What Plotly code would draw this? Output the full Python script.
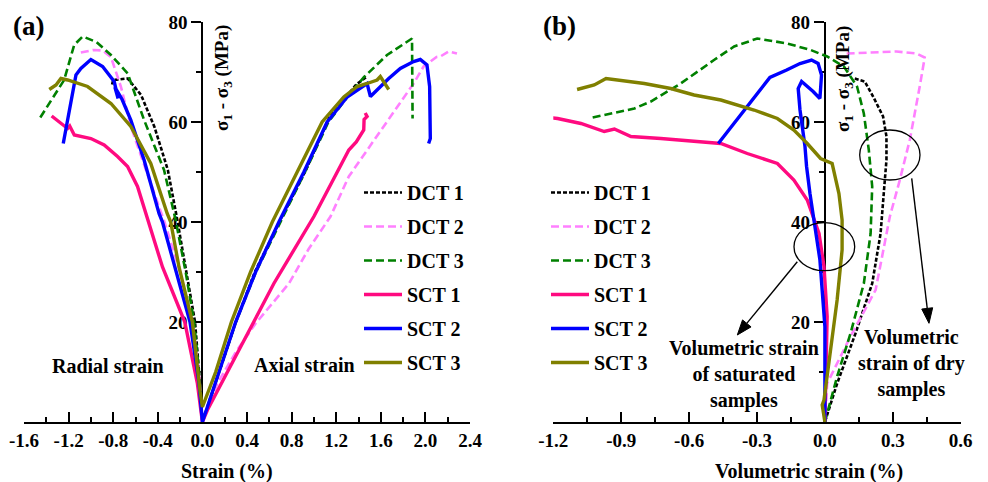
import math
import plotly.graph_objects as go

W, H = 988, 482
FONT = "Liberation Serif"

# ---------------- data : panel (a) radial / axial strain ----------------
NAMES = ["DCT 1", "DCT 2", "DCT 3", "SCT 1", "SCT 2", "SCT 3"]

DCT1_RAD_X = [-0.81, -0.80, -0.67, -0.55, -0.43, -0.31, -0.23, -0.15, -0.066, -0.03, 0.0]
DCT1_RAD_Y = [67.5, 68.4, 68.7, 65.4, 59.0, 50.4, 41.0, 31.0, 20.0, 10.0, 0.0]
DCT1_AX_X = [0.0, 0.15, 0.30, 0.47, 0.69, 0.92, 1.15, 1.24, 1.38, 1.477]
DCT1_AX_Y = [0.0, 10.0, 20.0, 30.0, 40.0, 50.0, 61.5, 63.7, 67.5, 69.1]

DCT2_RAD_X = [-1.09, -0.98, -0.895, -0.82, -0.73, -0.64, -0.50, -0.34, -0.20, -0.09, -0.03, 0.0]
DCT2_RAD_Y = [73.9, 74.4, 74.3, 73.0, 67.0, 59.0, 50.0, 40.0, 30.0, 20.0, 10.0, 0.0]
DCT2_AX_X = [0.0, 0.134, 0.30, 0.477, 0.70, 0.776, 0.95, 1.149, 1.313, 1.477, 1.567, 1.746,
             1.894, 1.984, 2.10, 2.134, 2.208, 2.283]
DCT2_AX_Y = [0.0, 7.7, 14.0, 19.7, 25.7, 27.7, 34.5, 41.1, 49.1, 54.4, 57.1, 63.1,
             67.7, 71.1, 73.0, 73.1, 74.1, 73.7]

DCT3_RAD_X = [-1.454, -1.24, -1.15, -1.074, -0.95, -0.82, -0.67, -0.523, -0.344, -0.24,
              -0.15, -0.075, -0.03, 0.0]
DCT3_RAD_Y = [60.9, 68.4, 75.4, 77.1, 76.0, 73.4, 69.7, 60.4, 50.4, 40.4, 30.0, 20.0, 10.0, 0.0]
DCT3_AX_X = [0.0, 0.15, 0.30, 0.48, 0.70, 0.92, 1.13, 1.30, 1.45, 1.656, 1.88, 1.885]
DCT3_AX_Y = [0.0, 10.0, 20.0, 30.0, 40.0, 50.0, 60.0, 65.0, 69.0, 73.4, 76.7, 60.7]

SCT1_RAD_X = [-1.352, -1.269, -1.209, -1.19, -1.149, -1.0, -0.881, -0.761, -0.671, -0.582,
              -0.49, -0.358, -0.158, -0.045, 0.0]
SCT1_RAD_Y = [61.2, 59.7, 58.7, 59.2, 57.4, 56.7, 55.4, 53.1, 51.1, 47.1, 40.4, 31.0, 20.0, 7.7, 0.0]
SCT1_AX_X = [0.0, 0.045, 0.328, 0.641, 1.0, 1.253, 1.313, 1.38, 1.417, 1.447, 1.45, 1.477, 1.46]
SCT1_AX_Y = [0.0, 2.4, 14.4, 27.7, 41.1, 51.7, 54.4, 56.0, 57.4, 58.4, 60.5, 61.1, 61.8]

SCT2_RAD_X = [-1.248, -1.134, -1.09, -1.0, -0.895, -0.791, -0.756, -0.785, -0.72, -0.642,
              -0.523, -0.389, -0.358, -0.235, -0.111, -0.03, 0.0]
SCT2_RAD_Y = [55.7, 69.4, 70.7, 72.5, 71.1, 68.1, 64.7, 67.0, 64.5, 60.4, 52.4, 41.7, 40.0,
              30.0, 20.0, 7.7, 0.0]
SCT2_AX_X = [0.0, 0.149, 0.298, 0.477, 0.686, 0.91, 1.119, 1.298, 1.477, 1.507, 1.596, 1.671,
             1.775, 1.894, 1.954, 2.014, 2.038, 2.044, 2.029]
SCT2_AX_Y = [0.0, 10.0, 20.0, 30.0, 40.0, 50.0, 60.0, 65.0, 67.7, 65.1, 67.1, 68.7,
             70.7, 72.1, 72.5, 71.4, 67.1, 56.7, 55.7]

SCT3_RAD_X = [-1.373, -1.313, -1.269, -1.209, -1.03, -0.82, -0.642, -0.463, -0.316, -0.284,
              -0.21, -0.09, -0.02, 0.0]
SCT3_RAD_Y = [66.5, 67.4, 68.7, 68.4, 67.1, 63.7, 59.1, 51.7, 41.7, 40.0, 31.0, 20.0, 6.0, 3.0]
SCT3_AX_X = [0.0, 0.119, 0.26, 0.432, 0.627, 0.85, 1.074, 1.268, 1.388, 1.477, 1.567, 1.596, 1.671]
SCT3_AX_Y = [3.0, 10.0, 20.0, 30.0, 40.0, 50.0, 60.0, 65.0, 67.1, 67.7, 68.4, 69.1, 66.5]

# ---------------- data : panel (b) volumetric strain ----------------
DCT1_VOL_X = [0.132, 0.176, 0.213, 0.257, 0.272, 0.272, 0.26, 0.246, 0.209, 0.135, 0.054, 0.0]
DCT1_VOL_Y = [68.7, 68.1, 65.1, 61.1, 57.1, 52.4, 45.7, 37.7, 27.7, 17.7, 7.7, 0.0]

DCT2_VOL_X = [0.096, 0.316, 0.404, 0.441, 0.419, 0.375, 0.331, 0.287, 0.224, 0.113, 0.01, 0.0]
DCT2_VOL_Y = [73.7, 74.1, 73.7, 72.9, 67.1, 56.4, 48.4, 41.1, 26.4, 17.1, 7.7, 0.0]

DCT3_VOL_X = [-1.026, -0.842, -0.769, -0.637, -0.49, -0.401, -0.299, -0.166, -0.063, 0.01,
              0.084, 0.142, 0.172, 0.194, 0.209, 0.202, 0.172, 0.113, 0.054, 0.0]
DCT3_VOL_Y = [60.9, 62.7, 64.1, 67.7, 72.4, 75.1, 76.7, 75.7, 74.4, 73.1,
              71.1, 67.1, 61.7, 54.4, 47.1, 37.7, 27.7, 17.7, 9.1, 0.0]

SCT1_VOL_X = [-1.269, -1.181, -1.078, -0.975, -0.93, -0.857, -0.725, -0.46, -0.343, -0.21,
              -0.137, -0.078, -0.026, -0.004, 0.01, 0.0]
SCT1_VOL_Y = [61.2, 60.7, 59.7, 58.1, 58.6, 57.1, 56.7, 55.7, 53.7, 51.7,
              48.4, 44.4, 37.7, 31.1, 21.1, 0.0]

SCT2_VOL_X = [-0.471, -0.243, -0.169, -0.11, -0.059, -0.03, -0.015, -0.022, -0.052, -0.103,
              -0.118, -0.11, -0.088, -0.081, -0.066, -0.044, -0.022, 0.0, 0.0, 0.0]
SCT2_VOL_Y = [55.7, 68.9, 70.4, 71.7, 72.4, 71.7, 69.4, 64.7, 66.1, 68.1,
              66.7, 62.4, 55.1, 51.1, 45.7, 39.1, 32.4, 19.1, 5.7, 0.0]

SCT3_VOL_X = [-1.095, -1.019, -0.967, -0.798, -0.681, -0.578, -0.46, -0.313, -0.21, -0.137,
              -0.078, -0.019, 0.032, 0.062, 0.076, 0.076, 0.054, 0.025, -0.004, -0.012, 0.0]
SCT3_VOL_Y = [66.5, 67.4, 68.7, 67.7, 66.7, 65.4, 64.4, 62.4, 60.7, 58.4,
              55.7, 52.7, 51.7, 45.7, 40.4, 34.4, 24.4, 14.4, 4.4, 3.4, 0.0]

# ticks
XA_TICKS = [-1.6, -1.2, -0.8, -0.4, 0.0, 0.4, 0.8, 1.2, 1.6, 2.0, 2.4]
XA_LABELS = ["-1.6", "-1.2", "-0.8", "-0.4", "0.0", "0.4", "0.8", "1.2", "1.6", "2.0", "2.4"]
XA_MINOR = [-1.4, -1.0, -0.6, -0.2, 0.2, 0.6, 1.0, 1.4, 1.8, 2.2]
XB_TICKS = [-1.2, -0.9, -0.6, -0.3, 0.0, 0.3, 0.6]
XB_LABELS = ["-1.2", "-0.9", "-0.6", "-0.3", "0.0", "0.3", "0.6"]
XB_MINOR = [-1.05, -0.75, -0.45, -0.15, 0.15, 0.45]
Y_TICKS = [20, 40, 60, 80]
Y_LABELS = ["20", "40", "60", "80"]
Y_MINOR = [10, 30, 50, 70]

# ---------------- styles ----------------
COLORS = ["#000000", "#FF80FF", "#008000", "#FF0A80", "#0000FF", "#808000"]
DASHES = ["4px,2px", "8px,4px", "8px,4px", "solid", "solid", "solid"]
WIDTHS = [2.6, 2.6, 2.6, 3.4, 3.4, 3.4]

RAD_X = [DCT1_RAD_X, DCT2_RAD_X, DCT3_RAD_X, SCT1_RAD_X, SCT2_RAD_X, SCT3_RAD_X]
RAD_Y = [DCT1_RAD_Y, DCT2_RAD_Y, DCT3_RAD_Y, SCT1_RAD_Y, SCT2_RAD_Y, SCT3_RAD_Y]
AX_X = [DCT1_AX_X, DCT2_AX_X, DCT3_AX_X, SCT1_AX_X, SCT2_AX_X, SCT3_AX_X]
AX_Y = [DCT1_AX_Y, DCT2_AX_Y, DCT3_AX_Y, SCT1_AX_Y, SCT2_AX_Y, SCT3_AX_Y]
VOL_X = [DCT1_VOL_X, DCT2_VOL_X, DCT3_VOL_X, SCT1_VOL_X, SCT2_VOL_X, SCT3_VOL_X]
VOL_Y = [DCT1_VOL_Y, DCT2_VOL_Y, DCT3_VOL_Y, SCT1_VOL_Y, SCT2_VOL_Y, SCT3_VOL_Y]

fig = go.Figure()
for i, name in enumerate(NAMES):
    fig.add_trace(go.Scatter(
        x=RAD_X[i] + AX_X[i], y=RAD_Y[i] + AX_Y[i], mode="lines", name=name,
        line=dict(color=COLORS[i], width=WIDTHS[i], dash=DASHES[i]),
        xaxis="x", yaxis="y", legend="legend", legendgroup="a%d" % i))
for i, name in enumerate(NAMES):
    fig.add_trace(go.Scatter(
        x=VOL_X[i], y=VOL_Y[i], mode="lines", name=name,
        line=dict(color=COLORS[i], width=WIDTHS[i], dash=DASHES[i]),
        xaxis="x2", yaxis="y2", legend="legend2", legendgroup="b%d" % i))


def px(x):
    return x / W


def py(y):
    return 1 - y / H


TICKFONT = dict(family=FONT, size=19, color="black", weight="bold")
YDOM = [py(422), py(22)]


def xaxis(dom, rng, tv, tt, mv, anchor):
    return dict(domain=dom, range=rng, tickvals=tv, ticktext=tt, ticks="inside",
                ticklen=10, tickwidth=2, tickcolor="black", showline=True, linewidth=2,
                linecolor="black", showgrid=False, zeroline=False, tickfont=TICKFONT,
                layer="below traces", anchor=anchor, automargin=False,
                minor=dict(tickvals=mv, ticks="inside", ticklen=5, tickwidth=2,
                           tickcolor="black", showgrid=False))


def yaxis(pos):
    return dict(domain=YDOM, range=[0, 80], tickvals=Y_TICKS, ticktext=Y_LABELS,
                ticks="outside", ticklen=10, tickwidth=2, tickcolor="black",
                showline=True, linewidth=2, linecolor="black", showgrid=False,
                zeroline=False, tickfont=TICKFONT, anchor="free", position=pos,
                side="left", layer="below traces", automargin=False,
                minor=dict(tickvals=Y_MINOR, ticks="outside", ticklen=5, tickwidth=2,
                           tickcolor="black", showgrid=False))


LEGFONT = dict(family=FONT, size=20, color="black", weight="bold")

fig.update_layout(
    template="none",
    width=W, height=H, margin=dict(l=0, r=0, t=0, b=0, autoexpand=False),
    paper_bgcolor="white", plot_bgcolor="white", showlegend=True,
    xaxis=xaxis([px(24), px(470)], [-1.6, 2.4], XA_TICKS, XA_LABELS, XA_MINOR, "y"),
    yaxis=yaxis(px(202.4)),
    xaxis2=xaxis([px(553.3), px(960.7)], [-1.2, 0.6], XB_TICKS, XB_LABELS, XB_MINOR, "y2"),
    yaxis2=yaxis(px(824.9)),
    legend=dict(x=px(359), y=py(173), xanchor="left", yanchor="top", font=LEGFONT,
                bgcolor="rgba(0,0,0,0)", tracegroupgap=5, borderwidth=0, itemwidth=38),
    legend2=dict(x=px(546), y=py(173), xanchor="left", yanchor="top", font=LEGFONT,
                 bgcolor="rgba(0,0,0,0)", tracegroupgap=5, borderwidth=0, itemwidth=38),
)


def label(text, x, y, size=20, angle=0):
    fig.add_annotation(text=text, x=px(x), y=py(y), xref="paper", yref="paper",
                       showarrow=False, textangle=angle, xanchor="center", yanchor="middle",
                       font=dict(family=FONT, size=size, color="black", weight="bold"))


label("(a)", 28, 26, size=27)
label("(b)", 559, 26, size=27)
label("Radial strain", 108, 366)
label("Axial strain", 304, 365)
label("Strain (%)", 227, 471)
label("Volumetric strain (%)", 809, 471)
label("σ<sub>1</sub> - σ<sub>3</sub> (MPa)", 223, 78, size=19, angle=-90)
label("σ<sub>1</sub> - σ<sub>3</sub> (MPa)", 844, 79, size=19, angle=-90)
label("Volumetric strain<br>of saturated<br>samples", 744, 374)
label("Volumetric<br>strain of dry<br>samples", 911, 363)

# ellipses
fig.add_shape(type="circle", xref="paper", yref="paper", x0=px(794), x1=px(854.7),
              y0=py(270.7), y1=py(222.7), line=dict(color="black", width=1.3))
fig.add_shape(type="circle", xref="paper", yref="paper", x0=px(859.7), x1=px(920),
              y0=py(180), y1=py(130), line=dict(color="black", width=1.3))

# arrows (line + filled triangular head), drawn as shapes
HEAD_L, HEAD_W = 15.0, 11.0
for hx, hy, tx, ty in [(737.3, 335, 797.3, 261.7), (929, 323.3, 911.7, 178.3)]:
    dx, dy = hx - tx, hy - ty
    n = math.hypot(dx, dy)
    ux, uy = dx / n, dy / n
    bx, by = hx - ux * HEAD_L, hy - uy * HEAD_L
    fig.add_shape(type="line", xref="paper", yref="paper", x0=px(tx), y0=py(ty),
                  x1=px(bx), y1=py(by), line=dict(color="black", width=1.4))
    p1 = (bx - uy * HEAD_W / 2, by + ux * HEAD_W / 2)
    p2 = (bx + uy * HEAD_W / 2, by - ux * HEAD_W / 2)
    path = "M %f %f L %f %f L %f %f Z" % (px(hx), py(hy), px(p1[0]), py(p1[1]),
                                          px(p2[0]), py(p2[1]))
    fig.add_shape(type="path", xref="paper", yref="paper", path=path,
                  fillcolor="black", line=dict(color="black", width=1))

fig.write_html("out.html")
